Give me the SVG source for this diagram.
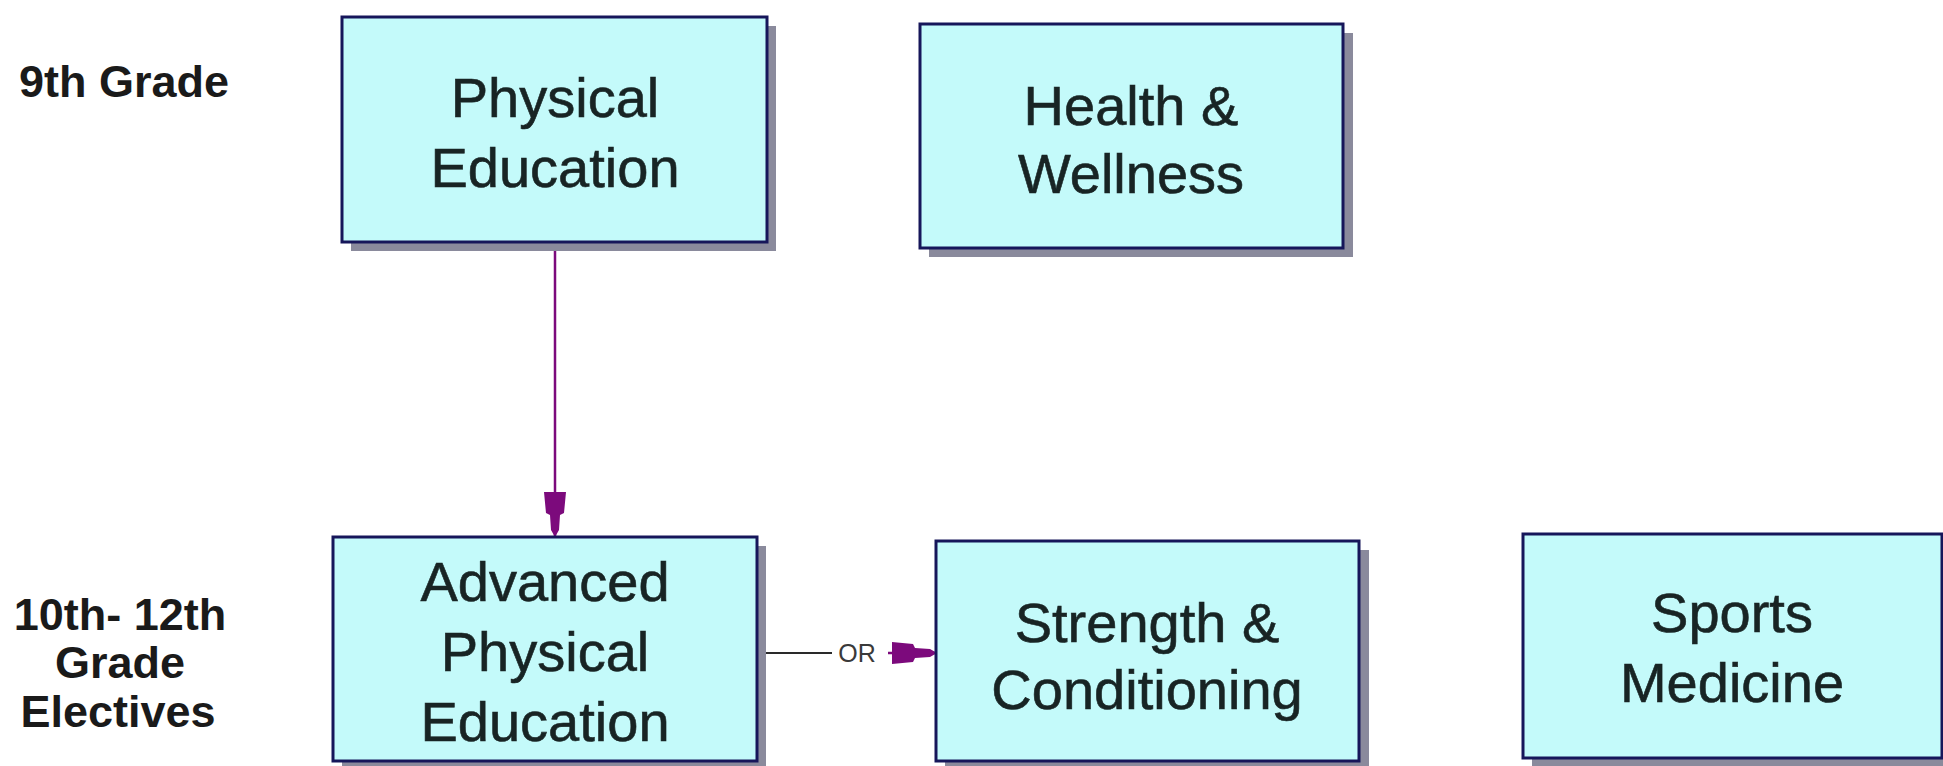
<svg xmlns="http://www.w3.org/2000/svg" width="1943" height="766" viewBox="0 0 1943 766">
<style>
.shadow{fill:#8a8a9c}
.box{fill:#c4fafa;stroke:#16165a;stroke-width:3}
.t{font-family:"Liberation Sans",Arial,sans-serif;font-size:56px;fill:#182424;stroke:#182424;stroke-width:0.6;text-anchor:middle}
.lbl{font-family:"Liberation Sans",Arial,sans-serif;font-size:45px;font-weight:bold;fill:#1a1a1a}
.or{font-family:"Liberation Sans",Arial,sans-serif;font-size:25px;fill:#3a3a3a;text-anchor:middle}
</style>
<defs>
<marker id="ah" markerUnits="userSpaceOnUse" markerWidth="50" markerHeight="30" refX="45" refY="0" orient="auto" overflow="visible">
<path d="M0,-11 L21,-9 L23,-5 L38,-4 L45,0 L38,4 L23,5 L21,9 L0,11 Z" fill="#7c0a7c"/>
</marker>
</defs>
<rect width="1943" height="766" fill="#ffffff"/>
<g id="labels">
<text class="lbl" x="19" y="97">9th Grade</text>
<text class="lbl" x="120" y="630" text-anchor="middle">10th- 12th</text>
<text class="lbl" x="120" y="678" text-anchor="middle">Grade</text>
<text class="lbl" x="118" y="727" text-anchor="middle">Electives</text>
</g>
<g id="connectors">
<path d="M555,243 L555,537" stroke="#7c0a7c" stroke-width="2.5" fill="none" marker-end="url(#ah)"/>
<path d="M758,653 L832,653" stroke="#2a2a2a" stroke-width="2" fill="none"/>
<text class="or" x="857" y="662">OR</text>
<path d="M888,653 L937,653" stroke="#7c0a7c" stroke-width="2.5" fill="none" marker-end="url(#ah)"/>
</g>
<g id="node-pe">
<rect class="shadow" x="351" y="26" width="425" height="225"/>
<rect class="box" x="342" y="17" width="425" height="225"/>
<text class="t" x="555" y="117">Physical</text>
<text class="t" x="555" y="187">Education</text>
</g>
<g id="node-hw">
<rect class="shadow" x="929" y="33" width="424" height="224"/>
<rect class="box" x="920" y="24" width="423" height="224"/>
<text class="t" x="1131" y="125">Health &amp;</text>
<text class="t" x="1131" y="193">Wellness</text>
</g>
<g id="node-ape">
<rect class="shadow" x="342" y="546" width="424" height="225"/>
<rect class="box" x="333" y="537" width="424" height="224"/>
<text class="t" x="545" y="601">Advanced</text>
<text class="t" x="545" y="671">Physical</text>
<text class="t" x="545" y="741">Education</text>
</g>
<g id="node-sc">
<rect class="shadow" x="945" y="550" width="424" height="221"/>
<rect class="box" x="936" y="541" width="423" height="220"/>
<text class="t" x="1147" y="642">Strength &amp;</text>
<text class="t" x="1147" y="709">Conditioning</text>
</g>
<g id="node-sm">
<rect class="shadow" x="1532" y="543" width="420" height="224"/>
<rect class="box" x="1523" y="534" width="419" height="224"/>
<text class="t" x="1732" y="632">Sports</text>
<text class="t" x="1732" y="702">Medicine</text>
</g>
</svg>
